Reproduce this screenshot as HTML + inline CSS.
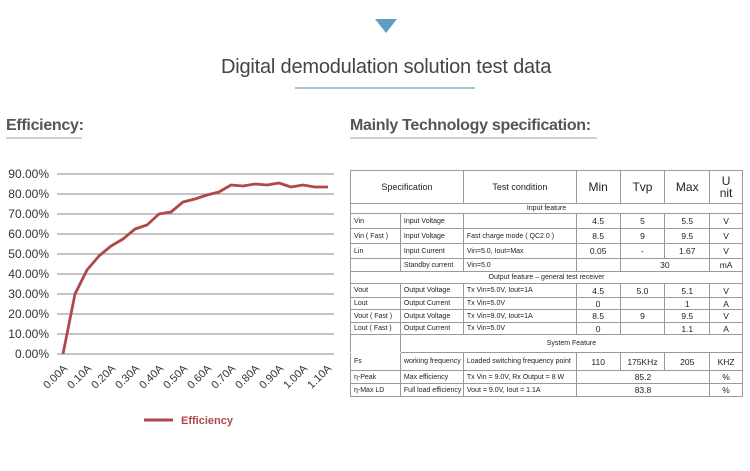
<!DOCTYPE html>
<html><head><meta charset="utf-8"><style>
body{margin:0;width:750px;height:471px;background:#fff;position:relative;overflow:hidden;font-family:"Liberation Sans",sans-serif;}
.abs{position:absolute;}
.h{font-weight:bold;color:#555;font-size:16px;border-bottom:2px solid #d0d0d0;padding-bottom:2px;letter-spacing:-0.3px}
table{border-collapse:collapse;font-size:7px;color:#222;}
td{border:1px solid #999;padding:0 0 0 3px;white-space:nowrap;}
td.c{text-align:center;padding:0}
td.n{text-align:center;padding:0;font-size:8.5px}
</style></head><body>
<div class="abs" style="left:375px;top:19px;width:0;height:0;border-left:11px solid transparent;border-right:11px solid transparent;border-top:14px solid #5f9dc2"></div>
<div class="abs" style="left:221px;top:56px;font-size:20px;color:#444;letter-spacing:-0.2px">Digital demodulation solution test data</div>
<div class="abs" style="left:295px;top:87px;width:180px;height:2px;background:#a9c6d6"></div>
<div class="abs h" style="left:6px;top:117px;width:76px">Efficiency:</div>
<div class="abs h" style="left:350px;top:117px;width:247px">Mainly Technology specification:</div>

<svg class="abs" style="left:0;top:0" width="345" height="471">
<g stroke="#a0a0a0" stroke-width="1.2">
<line x1="57" x2="334" y1="174" y2="174"/><line x1="57" x2="334" y1="194" y2="194"/><line x1="57" x2="334" y1="214" y2="214"/><line x1="57" x2="334" y1="234" y2="234"/><line x1="57" x2="334" y1="254" y2="254"/><line x1="57" x2="334" y1="274" y2="274"/><line x1="57" x2="334" y1="294" y2="294"/><line x1="57" x2="334" y1="314" y2="314"/><line x1="57" x2="334" y1="334" y2="334"/><line x1="57" x2="334" y1="354" y2="354"/>
</g>
<g font-size="12" fill="#333" text-anchor="end">
<text x="49" y="178">90.00%</text><text x="49" y="198">80.00%</text><text x="49" y="218">70.00%</text><text x="49" y="238">60.00%</text><text x="49" y="258">50.00%</text><text x="49" y="278">40.00%</text><text x="49" y="298">30.00%</text><text x="49" y="318">20.00%</text><text x="49" y="338">10.00%</text><text x="49" y="358">0.00%</text>
</g>
<g font-size="11" fill="#333" text-anchor="end">
<text transform="translate(68,369) rotate(-45)">0.00A</text>
<text transform="translate(92,369) rotate(-45)">0.10A</text>
<text transform="translate(116,369) rotate(-45)">0.20A</text>
<text transform="translate(140,369) rotate(-45)">0.30A</text>
<text transform="translate(164,369) rotate(-45)">0.40A</text>
<text transform="translate(188,369) rotate(-45)">0.50A</text>
<text transform="translate(212,369) rotate(-45)">0.60A</text>
<text transform="translate(236,369) rotate(-45)">0.70A</text>
<text transform="translate(260,369) rotate(-45)">0.80A</text>
<text transform="translate(284,369) rotate(-45)">0.90A</text>
<text transform="translate(308,369) rotate(-45)">1.00A</text>
<text transform="translate(332,369) rotate(-45)">1.10A</text>
</g>
<polyline fill="none" stroke="#b04848" stroke-width="2.8" stroke-linejoin="round" points="63,354 75,294 87,270 99,256 111,246 123,239 135,229 147,225 159,214 171,212 183,202 195,199 207,195 219,192 231,185 243,186 255,184 267,185 279,183 291,187 303,185 315,187 328,187"/>
<line x1="144" x2="173" y1="420" y2="420" stroke="#b04848" stroke-width="3"/>
<text x="181" y="424" font-size="11" font-weight="bold" fill="#b04848">Efficiency</text>
</svg>

<table class="abs" style="left:350px;top:170px;width:393px">
<colgroup><col style="width:50px"><col style="width:63px"><col style="width:113px"><col style="width:44px"><col style="width:45px"><col style="width:45px"><col style="width:33px"></colgroup>
<tr style="height:33px;font-size:9px"><td class="c" colspan="2">Specification</td><td class="c">Test condition</td><td class="c" style="font-size:12px">Min</td><td class="c" style="font-size:12px">Tvp</td><td class="c" style="font-size:12px">Max</td><td class="c" style="font-size:12px;line-height:12px">U<br>nit</td></tr>
<tr style="height:10px"><td class="c" colspan="7">Input feature</td></tr>
<tr style="height:15px"><td>Vin</td><td>Input Voltage</td><td></td><td class="n">4.5</td><td class="n">5</td><td class="n">5.5</td><td class="n">V</td></tr>
<tr style="height:15px"><td>Vin ( Fast )</td><td>Input Voltage</td><td>Fast charge mode ( QC2.0 )</td><td class="n">8.5</td><td class="n">9</td><td class="n">9.5</td><td class="n">V</td></tr>
<tr style="height:15px"><td>Lin</td><td>Input Current</td><td>Vin=5.0, Iout=Max</td><td class="n">0.05</td><td class="n">-</td><td class="n">1.67</td><td class="n">V</td></tr>
<tr style="height:13px"><td></td><td>Standby current</td><td>Vin=5.0</td><td></td><td colspan="2" class="n">30</td><td class="n">mA</td></tr>
<tr style="height:12px"><td class="c" colspan="7">Output feature – general test receiver</td></tr>
<tr style="height:14px"><td>Vout</td><td>Output Voltage</td><td>Tx Vin=5.0V, Iout=1A</td><td class="n">4.5</td><td class="n">5.0</td><td class="n">5.1</td><td class="n">V</td></tr>
<tr style="height:12px"><td>Lout</td><td>Output Current</td><td>Tx Vin=5.0V</td><td class="n">0</td><td></td><td class="n">1</td><td class="n">A</td></tr>
<tr style="height:13px"><td>Vout ( Fast )</td><td>Output Voltage</td><td>Tx Vin=9.0V, Iout=1A</td><td class="n">8.5</td><td class="n">9</td><td class="n">9.5</td><td class="n">V</td></tr>
<tr style="height:12px"><td>Lout ( Fast )</td><td>Output Current</td><td>Tx Vin=5.0V</td><td class="n">0</td><td></td><td class="n">1.1</td><td class="n">A</td></tr>
<tr style="height:18px"><td style="border-bottom-color:#fff"></td><td class="c" colspan="6">System Feature</td></tr>
<tr style="height:18px"><td>Fs</td><td>working frequency</td><td>Loaded switching frequency point</td><td class="n">110</td><td class="n">175KHz</td><td class="n">205</td><td class="n">KHZ</td></tr>
<tr style="height:13px"><td>η-Peak</td><td>Max efficiency</td><td>Tx Vin = 9.0V, Rx Output = 8 W</td><td colspan="3" class="n">85.2</td><td class="n">%</td></tr>
<tr style="height:13px"><td>η-Max LD</td><td>Full load efficiency</td><td>Vout = 9.0V, Iout = 1.1A</td><td colspan="3" class="n">83.8</td><td class="n">%</td></tr>
</table>
</body></html>
